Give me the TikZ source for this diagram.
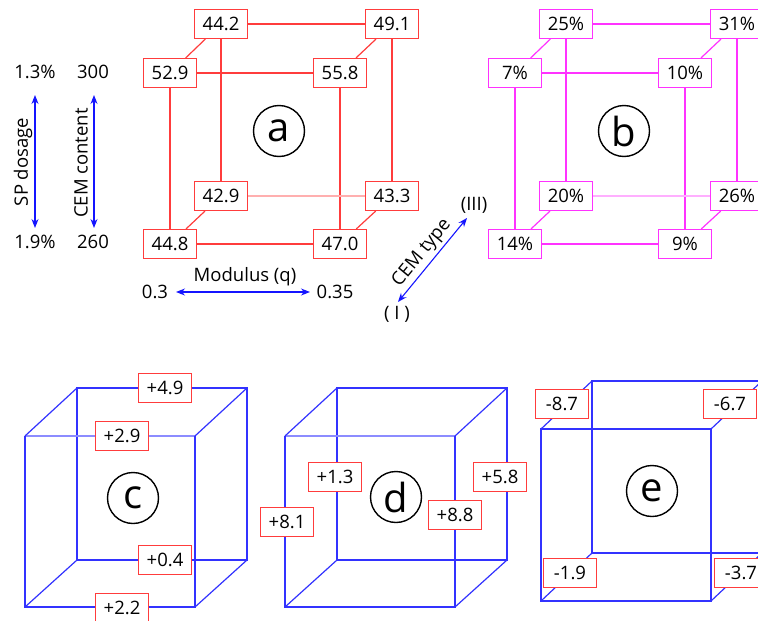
\documentclass[tikz,border=0pt]{standalone}
\usepackage{fontspec}
\setmainfont{Open Sans}
\usetikzlibrary{arrows.meta}
\definecolor{cred}{RGB}{255,60,60}
\definecolor{cpalered}{RGB}{255,175,175}
\definecolor{cmag}{RGB}{255,50,255}
\definecolor{cpalemag}{RGB}{255,175,255}
\definecolor{cblue}{RGB}{50,50,255}
\definecolor{cpaleblue}{RGB}{140,140,255}
\definecolor{carrow}{RGB}{20,20,255}
\newcommand{\valfont}{\fontsize{18.5}{18.5}\selectfont}
\newcommand{\bigfont}{\fontsize{40}{40}\selectfont}
\tikzset{
  valbox/.style={draw=#1, fill=white, line width=1.1pt, minimum width=53pt, minimum height=29pt, inner sep=0pt, font=\valfont},
  panel/.style={circle, draw=black, line width=1.4pt, minimum size=51pt, inner sep=0pt, font=\bigfont},
  edgeline/.style={draw=#1, line width=1.2pt},
  axarrow/.style={draw=carrow, line width=1.1pt, {Stealth[length=9pt,width=7pt]}-{Stealth[length=9pt,width=7pt]}},
  txt/.style={font=\valfont, inner sep=0pt}
}
\begin{document}
\begin{tikzpicture}[x=1pt,y=-1pt]
\useasboundingbox (0,0) rectangle (758,621);
\clip (0,0) rectangle (758,621);

% ---------- cube a ----------
\node[valbox=cred] (a1) at (170,73) {52.9};
\node[valbox=cred] (a2) at (340,73) {55.8};
\node[valbox=cred] (a3) at (170,244) {44.8};
\node[valbox=cred] (a4) at (340,244) {47.0};
\node[valbox=cred] (a5) at (221,24) {44.2};
\node[valbox=cred] (a6) at (392,24) {49.1};
\node[valbox=cred] (a7) at (221,196) {42.9};
\node[valbox=cred] (a8) at (392,196) {43.3};
\draw[edgeline=cred] (a1) -- (a2); \draw[edgeline=cred] (a3) -- (a4);
\draw[edgeline=cred] (a1) -- (a3); \draw[edgeline=cred] (a2) -- (a4);
\draw[edgeline=cred] (a5) -- (a6); \draw[edgeline=cpalered] (a7) -- (a8);
\draw[edgeline=cred] (a5) -- (a7); \draw[edgeline=cred] (a6) -- (a8);
\draw[edgeline=cred] (a5) -- (a1); \draw[edgeline=cred] (a6) -- (a2);
\draw[edgeline=cred] (a7) -- (a3); \draw[edgeline=cred] (a8) -- (a4);
\node[panel] (pa) at (279,131) {a};

% ---------- cube b ----------
\node[valbox=cmag] (b1) at (515,73) {7\%};
\node[valbox=cmag] (b2) at (685,73) {10\%};
\node[valbox=cmag] (b3) at (515,244) {14\%};
\node[valbox=cmag] (b4) at (685,244) {9\%};
\node[valbox=cmag] (b5) at (566,24) {25\%};
\node[valbox=cmag] (b6) at (737,24) {31\%};
\node[valbox=cmag] (b7) at (566,196) {20\%};
\node[valbox=cmag] (b8) at (737,196) {26\%};
\draw[edgeline=cmag] (b1) -- (b2); \draw[edgeline=cmag] (b3) -- (b4);
\draw[edgeline=cmag] (b1) -- (b3); \draw[edgeline=cmag] (b2) -- (b4);
\draw[edgeline=cmag] (b5) -- (b6); \draw[edgeline=cpalemag] (b7) -- (b8);
\draw[edgeline=cmag] (b5) -- (b7); \draw[edgeline=cmag] (b6) -- (b8);
\draw[edgeline=cmag] (b5) -- (b1); \draw[edgeline=cmag] (b6) -- (b2);
\draw[edgeline=cmag] (b7) -- (b3); \draw[edgeline=cmag] (b8) -- (b4);
\node[panel] (pb) at (624,131) {b};

% ---------- axes ----------
\node[txt] (t13) at (35,72) {1.3\%};
\node[txt] (t300) at (93,72) {300};
\node[txt] (t19) at (35,242) {1.9\%};
\node[txt] (t260) at (93,242) {260};
\coordinate (sp1) at (35,95); \coordinate (sp2) at (35,228);
\coordinate (ce1) at (94,95); \coordinate (ce2) at (94,228);
\draw[axarrow] (sp1) -- (sp2);
\draw[axarrow] (ce1) -- (ce2);
\node[txt, rotate=90] (lsp) at (23,162) {SP dosage};
\node[txt, rotate=90] (lce) at (81,163) {CEM content};

\node[txt] (m03) at (155,292) {0.3};
\node[txt] (m035) at (335,292) {0.35};
\coordinate (mo1) at (176,292); \coordinate (mo2) at (310,292);
\draw[axarrow] (mo1) -- (mo2);
\node[txt] (lmo) at (245,277) {Modulus (q)};

\coordinate (ct1) at (398,302); \coordinate (ct2) at (467,218);
\draw[axarrow] (ct1) -- (ct2);
\node[txt, rotate=50.6] (lct) at (422,253) {CEM type};
\node[txt] (tIII) at (474,205) {(III)};
\node[txt] (tI) at (397,314) {( I )};

% ---------- cube c ----------
\coordinate (cA) at (25,436); \coordinate (cB) at (195,436);
\coordinate (cC) at (195,607); \coordinate (cD) at (25,607);
\coordinate (cE) at (77,388); \coordinate (cF) at (247,388);
\coordinate (cG) at (247,560); \coordinate (cH) at (77,560);
\draw[edgeline=cblue] (cE) -- (cF) -- (cG) -- (cH) -- cycle;
\draw[edgeline=cpaleblue] (cA) -- (cB);
\draw[edgeline=cblue] (cB) -- (cC) -- (cD) -- (cA);
\draw[edgeline=cblue] (cA) -- (cE); \draw[edgeline=cblue] (cB) -- (cF);
\draw[edgeline=cblue] (cC) -- (cG); \draw[edgeline=cblue] (cD) -- (cH);
\node[valbox=cred] (c1) at (165,388) {+4.9};
\node[valbox=cred] (c2) at (122,436) {+2.9};
\node[valbox=cred] (c3) at (165,560) {+0.4};
\node[valbox=cred] (c4) at (122,608) {+2.2};
\node[panel] (pc) at (133,498) {c};

% ---------- cube d ----------
\coordinate (dA) at (285,436); \coordinate (dB) at (455,436);
\coordinate (dC) at (455,607); \coordinate (dD) at (285,607);
\coordinate (dE) at (337,388); \coordinate (dF) at (507,388);
\coordinate (dG) at (507,560); \coordinate (dH) at (337,560);
\draw[edgeline=cblue] (dE) -- (dF) -- (dG) -- (dH) -- cycle;
\draw[edgeline=cpaleblue] (dA) -- (dB);
\draw[edgeline=cblue] (dB) -- (dC) -- (dD) -- (dA);
\draw[edgeline=cblue] (dA) -- (dE); \draw[edgeline=cblue] (dB) -- (dF);
\draw[edgeline=cblue] (dC) -- (dG); \draw[edgeline=cblue] (dD) -- (dH);
\node[valbox=cred] (d1) at (335,477) {+1.3};
\node[valbox=cred] (d2) at (287,522) {+8.1};
\node[valbox=cred] (d3) at (455,515) {+8.8};
\node[valbox=cred] (d4) at (500,477) {+5.8};
\node[panel] (pd) at (396,497) {d};

% ---------- cube e ----------
\coordinate (eA) at (541,429); \coordinate (eB) at (711,429);
\coordinate (eC) at (711,601); \coordinate (eD) at (541,601);
\coordinate (eE) at (592,381); \coordinate (eF) at (762,381);
\coordinate (eG) at (762,553); \coordinate (eH) at (592,553);
\draw[edgeline=cblue] (eE) -- (eF) -- (eG) -- (eH) -- cycle;
\draw[edgeline=cblue] (eA) -- (eB) -- (eC) -- (eD) -- cycle;
\draw[edgeline=cblue] (eA) -- (eE); \draw[edgeline=cblue] (eB) -- (eF);
\draw[edgeline=cblue] (eC) -- (eG); \draw[edgeline=cblue] (eD) -- (eH);
\node[valbox=cred] (e1) at (562,404) {-8.7};
\node[valbox=cred] (e2) at (730,404) {-6.7};
\node[valbox=cred] (e3) at (570,573) {-1.9};
\node[valbox=cred] (e4) at (741,573) {-3.7};
\node[panel] (pe) at (652,491) {e};
\end{tikzpicture}
\end{document}
